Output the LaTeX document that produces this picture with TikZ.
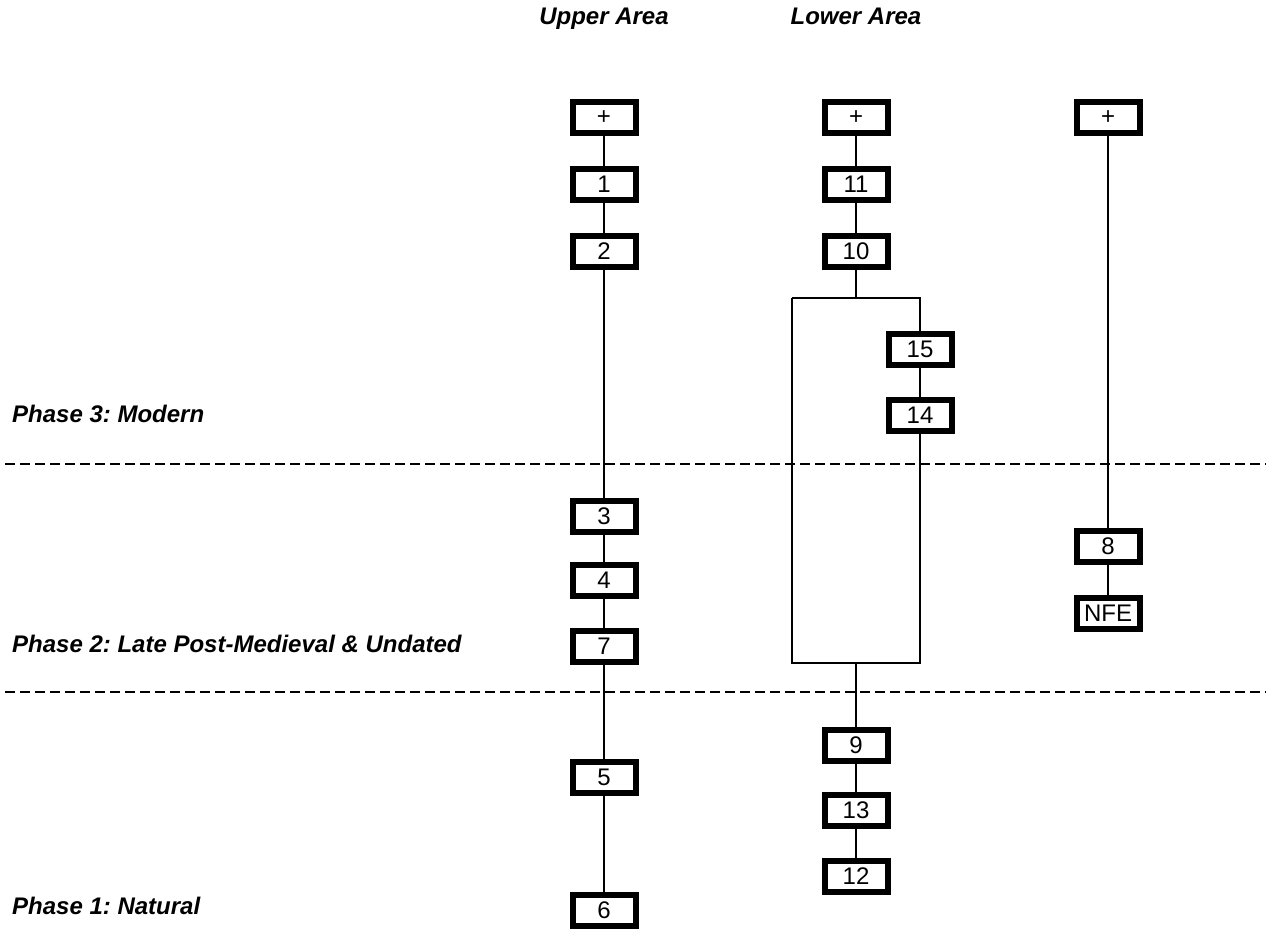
\documentclass[tikz,border=0pt]{standalone}
\usepackage{fontspec}
\setmainfont{Liberation Sans}
\frenchspacing
\begin{document}
\begin{tikzpicture}[x=1pt,y=-1pt,
  ctx/.style={draw=black,line width=6pt,fill=white,minimum width=63pt,minimum height=31pt,inner sep=0pt,font=\fontsize{24}{28}\selectfont},
  hdr/.style={anchor=base,font=\fontsize{24}{28}\selectfont\bfseries\itshape},
  phase/.style={anchor=base west,inner sep=0pt,font=\fontsize{24}{28}\selectfont\bfseries\itshape},
  link/.style={line width=1.5pt},
  divider/.style={line width=1.5pt,dash pattern=on 10pt off 5pt}]
\useasboundingbox (0,0) rectangle (1266,931);
% headers and phases
\node[hdr] (hu) at (604,25) {Upper Area};
\node[hdr] (hl) at (856,25) {Lower Area};
\node[phase] (p3) at (12,422) {Phase 3: Modern};
\node[phase] (p2) at (12,652) {Phase 2: Late Post-Medieval \& Undated};
\node[phase] (p1) at (12,914) {Phase 1: Natural};
% dividers
\coordinate (d1a) at (5,464); \coordinate (d1b) at (1266,464);
\coordinate (d2a) at (5,692); \coordinate (d2b) at (1266,692);
\draw[divider] (d1a) -- (d1b);
\draw[divider] (d2a) -- (d2b);
% group rectangle coordinates
\coordinate (gtop) at (856,298);
\coordinate (gbot) at (856,663);
\coordinate (gtl) at (792,298);
\coordinate (gbr) at (920,663);
% nodes
\node[ctx] (pu) at (604,118) {+};
\node[ctx] (n1) at (604,184) {1};
\node[ctx] (n2) at (604,251) {2};
\node[ctx] (n3) at (604,516) {3};
\node[ctx] (n4) at (604,580) {4};
\node[ctx] (n7) at (604,646) {7};
\node[ctx] (n5) at (604,777) {5};
\node[ctx] (n6) at (604,910) {6};
\node[ctx] (pl) at (856,118) {+};
\node[ctx] (n11) at (856,184) {11};
\node[ctx] (n10) at (856,251) {10};
\node[ctx] (n15) at (920,349) {15};
\node[ctx] (n14) at (920,415) {14};
\node[ctx] (n9) at (856,745) {9};
\node[ctx] (n13) at (856,810) {13};
\node[ctx] (n12) at (856,876) {12};
\node[ctx] (pr) at (1108,118) {+};
\node[ctx] (n8) at (1108,546) {8};
\node[ctx] (nfe) at (1108,613) {NFE};
% connectors
\draw[link] (pu) -- (n1); \draw[link] (n1) -- (n2); \draw[link] (n2) -- (n3);
\draw[link] (n3) -- (n4); \draw[link] (n4) -- (n7); \draw[link] (n7) -- (n5);
\draw[link] (n5) -- (n6);
\draw[link] (pl) -- (n11); \draw[link] (n11) -- (n10); \draw[link] (n10) -- (gtop);
\draw[link] (gtl) -- (gtl -| gbr) -- (n15);
\draw[link] (n15) -- (n14);
\draw[link] (n14) -- (gbr) -- (gbr -| gtl) -- (gtl);
\draw[link] (gbot) -- (n9); \draw[link] (n9) -- (n13); \draw[link] (n13) -- (n12);
\draw[link] (pr) -- (n8); \draw[link] (n8) -- (nfe);
\coordinate (thk) at (1108,496);
\draw[line width=2.5pt] (thk) -- (n8);
\end{tikzpicture}
\end{document}
